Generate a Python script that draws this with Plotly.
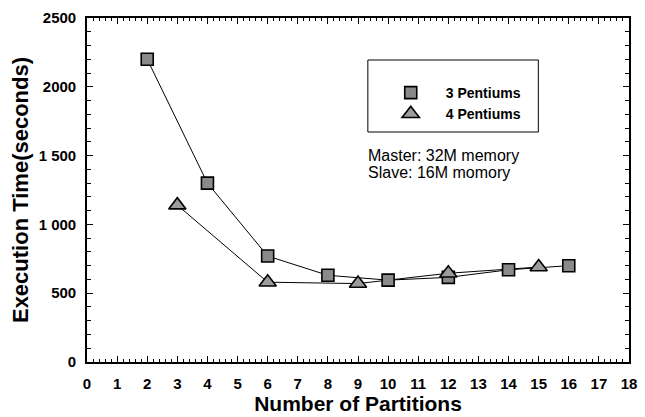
import plotly.graph_objects as go

# Execution time vs. number of partitions
x_3p = [2, 4, 6, 8, 10, 12, 14, 16]
y_3p = [2200, 1300, 770, 630, 595, 615, 670, 700]

x_4p = [3, 6, 9, 12, 15]
y_4p = [1140, 580, 570, 645, 690]

x_ticks = list(range(0, 19))
y_ticks = [0, 500, 1000, 1500, 2000, 2500]
y_tick_text = ["0", "500", "1 000", "1 500", "2000", "2500"]

note_lines = ["Master: 32M memory", "Slave: 16M momory"]

font_family = "Liberation Sans, Arial, sans-serif"

series = [
    ("3 Pentiums", x_3p, y_3p, dict(symbol="square", size=12, color="#8a8a8a",
                                    line=dict(color="black", width=1.6))),
    ("4 Pentiums", x_4p, y_4p, dict(symbol="triangle-up", size=15, color="#9c9c9c",
                                    line=dict(color="black", width=1.6))),
]

fig = go.Figure()

# connecting lines (kept out of the legend)
for name, xs, ys, mk in series:
    fig.add_trace(go.Scatter(x=xs, y=ys, mode="lines", showlegend=False,
                             line=dict(color="black", width=1), hoverinfo="skip"))
# markers (shown in the legend)
for name, xs, ys, mk in series:
    fig.add_trace(go.Scatter(x=xs, y=ys, mode="markers", name=name, marker=mk))

axis_common = dict(
    showgrid=False, zeroline=False, showline=True, linecolor="black",
    linewidth=1.6, mirror="ticks", ticks="inside", tickcolor="black",
)
tick_font = dict(family=font_family, size=15, color="black", weight="bold")

fig.update_xaxes(
    **axis_common, range=[0, 18], tickvals=x_ticks, ticklen=6, tickwidth=1,
    tickfont=tick_font, ticklabelstandoff=7,
    minor=dict(dtick=0.2, ticks="inside", ticklen=3, tickcolor="black", tickwidth=1),
    title=dict(text="Number of Partitions", standoff=3,
               font=dict(family=font_family, size=21, color="black", weight="bold")),
)
fig.update_yaxes(
    **axis_common, range=[0, 2500], tickvals=y_ticks, ticktext=y_tick_text,
    ticklen=6, tickwidth=1, tickfont=tick_font, ticklabelstandoff=6,
    minor=dict(dtick=100, ticks="inside", ticklen=4, tickcolor="black", tickwidth=1),
    title=dict(text="Execution Time(seconds)", standoff=4,
               font=dict(family=font_family, size=22, color="black", weight="bold")),
)

plot_l, plot_r, plot_t, plot_b = 87, 637, 18, 362
pw, ph = plot_r - plot_l, plot_b - plot_t

# Legend frame
fig.add_shape(type="rect", xref="paper", yref="paper",
              x0=(372 - plot_l) / pw, x1=(545 - plot_l) / pw,
              y0=(plot_b - 132) / ph, y1=(plot_b - 60) / ph,
              line=dict(color="black", width=1), fillcolor="white", layer="below")

# Memory configuration note, one annotation per line
for i, line in enumerate(note_lines):
    fig.add_annotation(
        xref="paper", yref="paper", x=(370 - plot_l) / pw,
        y=(plot_b - (155 + 17 * i)) / ph,
        xanchor="left", yanchor="middle", align="left", showarrow=False,
        text=line, font=dict(family=font_family, size=16, color="black"),
    )

fig.update_layout(
    width=645, height=417,
    margin=dict(l=plot_l, r=645 - plot_r, t=plot_t, b=417 - plot_b),
    paper_bgcolor="white", plot_bgcolor="white",
    showlegend=True,
    legend=dict(
        x=(380 - plot_l) / pw, y=(plot_b - 77) / ph, xanchor="left", yanchor="top",
        bgcolor="rgba(0,0,0,0)", borderwidth=0, itemwidth=60,
        tracegroupgap=0,
        font=dict(family=font_family, size=14, color="black", weight="bold"),
    ),
)

fig.write_html("out.html")
